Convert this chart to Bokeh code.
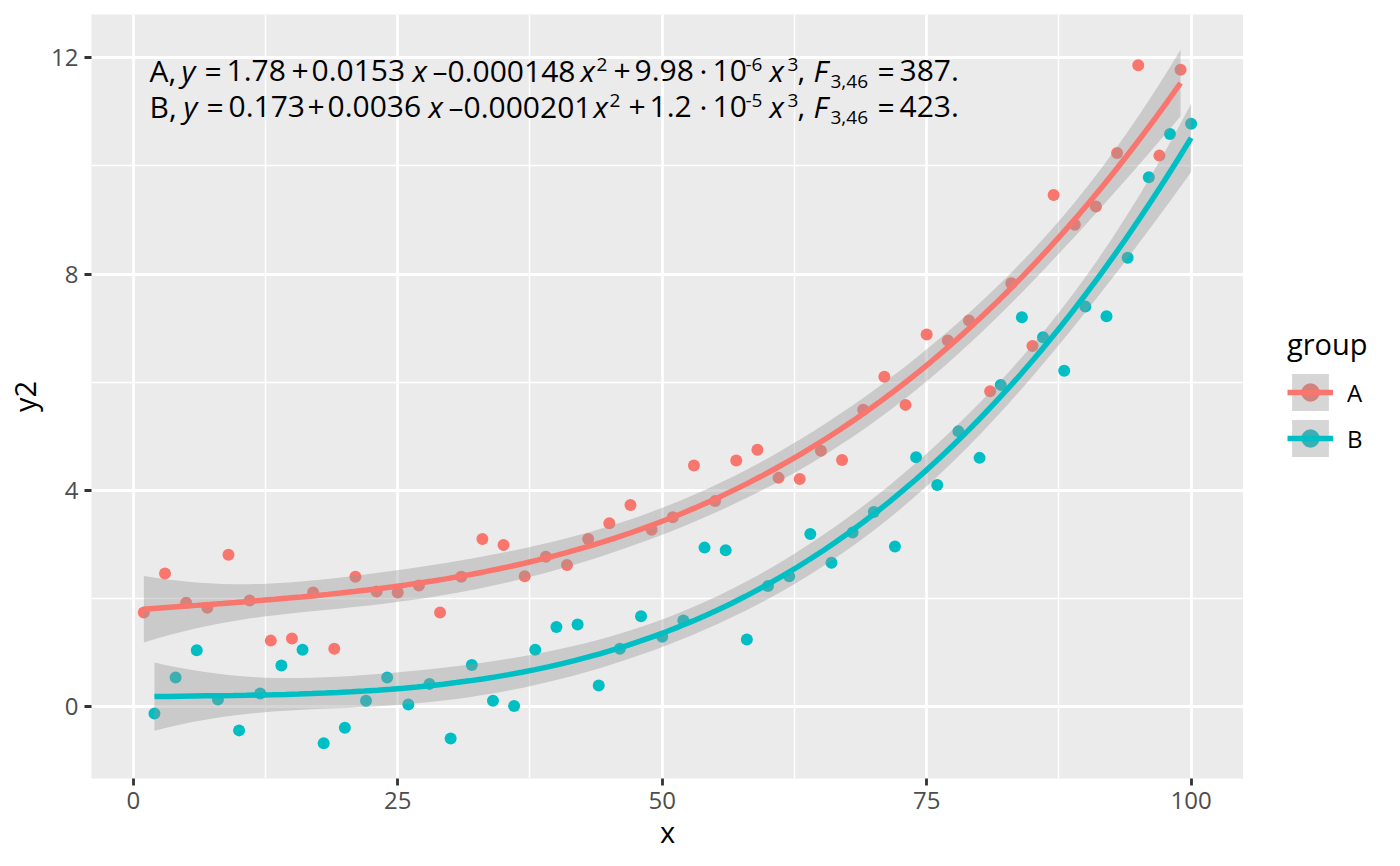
import numpy as np
from bokeh.plotting import figure
from bokeh.layouts import row
from bokeh.models import Range1d, FixedTicker, Legend, LegendItem, ColumnDataSource
from bokeh.core.properties import value
from bokeh.embed import file_html
from bokeh.resources import INLINE

# ---------------- data ----------------
x_a = list(range(1, 100, 2))
y_a = [1.74, 2.46, 1.92, 1.83, 2.81, 1.96, 1.22, 1.26, 2.11, 1.07,
       2.40, 2.13, 2.11, 2.24, 1.74, 2.40, 3.10, 2.99, 2.41, 2.77,
       2.62, 3.10, 3.39, 3.73, 3.27, 3.50, 4.46, 3.80, 4.55, 4.75,
       4.23, 4.21, 4.73, 4.56, 5.49, 6.10, 5.58, 6.88, 6.77, 7.14,
       5.83, 7.83, 6.67, 9.46, 8.91, 9.25, 10.24, 11.86, 10.19, 11.78]
x_b = list(range(2, 101, 2))
y_b = [-0.13, 0.54, 1.04, 0.13, -0.44, 0.24, 0.76, 1.05, -0.68, -0.39,
       0.11, 0.54, 0.04, 0.42, -0.59, 0.77, 0.11, 0.01, 1.05, 1.47,
       1.52, 0.39, 1.07, 1.67, 1.29, 1.59, 2.94, 2.89, 1.24, 2.23,
       2.41, 3.19, 2.66, 3.22, 3.60, 2.96, 4.61, 4.10, 5.09, 4.60,
       5.95, 7.20, 6.83, 6.21, 7.40, 7.22, 8.30, 9.79, 10.59, 10.78]
groups = ["A", "B"]
colors = ["#F8766D", "#00BFC4"]
x_ticks = [0, 25, 50, 75, 100]
x_minor = [12.5, 37.5, 62.5, 87.5]
y_ticks = [0, 4, 8, 12]
y_minor = [2, 6, 10]
T975 = 2.0129  # t quantile, 46 d.f.

# equation label pieces: (ref px x, text, style)  style: n normal, i italic, sup, sub
eq_lines = [
    [(150, "A,", "n"), (182, "y", "i"), (205, "=", "n"), (227, "1.78", "n"),
     (292, "+", "n"), (312, "0.0153", "n"), (413, "x", "i"), (433, "–0.000148", "n"),
     (581, "x", "i"), (597, "2", "sup"), (614, "+", "n"), (635, "9.98", "n"),
     (700, "·", "n"), (713, "10", "n"), (746, "-6", "sup"), (770, "x", "i"),
     (788, "3", "sup"), (798, ",", "n"), (814, "F", "i"), (831, "3,46", "sub"),
     (878, "=", "n"), (900, "387.", "n")],
    [(150, "B,", "n"), (184, "y", "i"), (207, "=", "n"), (229, "0.173", "n"),
     (308, "+", "n"), (328, "0.0036", "n"), (429, "x", "i"), (449, "–0.000201", "n"),
     (594, "x", "i"), (610, "2", "sup"), (629, "+", "n"), (650, "1.2", "n"),
     (700, "·", "n"), (713, "10", "n"), (746, "-5", "sup"), (770, "x", "i"),
     (788, "3", "sup"), (798, ",", "n"), (814, "F", "i"), (831, "3,46", "sub"),
     (878, "=", "n"), (900, "423.", "n")],
]
eq_baselines = [82, 118]

# ---------------- layout constants ----------------
H = 858
FR_L, FR_T, FR_W, FR_H = 91, 14, 1152, 764   # frame in reference pixels
W_MAIN = FR_L + FR_W
W_LEG = 141
X0, X1 = -3.95, 104.95
Y0, Y1 = -1.33, 12.80
FS_MAIN, FS_SMALL = 30, 19


def px2x(px):
    return X0 + (px - FR_L) / FR_W * (X1 - X0)


def py2y(py):
    return Y1 - (py - FR_T) / FR_H * (Y1 - Y0)


def poly_fit(xs, ys, n=80):
    xs = np.asarray(xs, float)
    ys = np.asarray(ys, float)
    X = np.vander(xs, 4, increasing=True)
    beta, *_ = np.linalg.lstsq(X, ys, rcond=None)
    resid = ys - X @ beta
    s2 = resid @ resid / (len(xs) - 4)
    XtXi = np.linalg.inv(X.T @ X)
    xg = np.linspace(xs.min(), xs.max(), n)
    G = np.vander(xg, 4, increasing=True)
    yg = G @ beta
    se = np.sqrt(s2 * np.einsum("ij,jk,ik->i", G, XtXi, G))
    return xg, yg, yg - T975 * se, yg + T975 * se


p = figure(width=W_MAIN, height=H, output_backend="svg", toolbar_location=None,
           x_range=Range1d(X0, X1), y_range=Range1d(Y0, Y1),
           min_border_left=FR_L, min_border_right=0,
           min_border_top=FR_T, min_border_bottom=H - FR_T - FR_H)
p.background_fill_color = "#EBEBEB"
p.border_fill_color = "white"
p.outline_line_color = None

p.xaxis.ticker = FixedTicker(ticks=x_ticks, minor_ticks=x_minor)
p.yaxis.ticker = FixedTicker(ticks=y_ticks, minor_ticks=y_minor)
for ax in (p.xaxis, p.yaxis):
    ax.axis_line_color = None
    ax.major_tick_line_color = "#333333"
    ax.major_tick_line_width = 2.8
    ax.major_tick_out = 7
    ax.major_tick_in = 0
    ax.minor_tick_line_color = None
    ax.major_label_text_font = "Open Sans"
    ax.major_label_text_font_size = "24px"
    ax.major_label_text_color = "#4D4D4D"
    ax.axis_label_text_font = "Open Sans"
    ax.axis_label_text_font_size = "29px"
    ax.axis_label_text_font_style = "normal"
    ax.axis_label_text_color = "black"
p.xaxis.axis_label = "x"
p.yaxis.axis_label = "y2"
p.xaxis.major_label_standoff = 6
p.yaxis.major_label_standoff = 6
p.xaxis.axis_label_standoff = 0
p.yaxis.axis_label_standoff = 4

for g in (p.xgrid, p.ygrid):
    g.grid_line_color = "white"
    g.grid_line_width = 2.8
    g.minor_grid_line_color = "white"
    g.minor_grid_line_width = 1.4

for name, xs, ys, col in zip(groups, [x_a, x_b], [y_a, y_b], colors):
    src = ColumnDataSource(dict(x=xs, y=ys))
    p.scatter("x", "y", source=src, size=12, fill_color=col, line_color=None)

for name, xs, ys, col in zip(groups, [x_a, x_b], [y_a, y_b], colors):
    xg, yg, lo, hi = poly_fit(xs, ys)
    fsrc = ColumnDataSource(dict(x=xg, y=yg, lo=lo, hi=hi))
    p.varea(x="x", y1="lo", y2="hi", source=fsrc, fill_color="#999999", fill_alpha=0.4)
    p.line("x", "y", source=fsrc, line_color=col, line_width=5.5)

# equation labels (baseline correction measured from the render)
for line, base in zip(eq_lines, eq_baselines):
    for px, txt, style in line:
        if style == "sup":
            yb, fs, fst = base - 11, FS_SMALL, "normal"
        elif style == "sub":
            yb, fs, fst = base + 6, FS_SMALL, "normal"
        elif style == "i":
            yb, fs, fst = base, FS_MAIN, "italic"
        else:
            yb, fs, fst = base, FS_MAIN, "normal"
        p.text(x=[px2x(px - 1)], y=[py2y(yb - 0.39 * fs)], text=[txt],
               text_font=value("Open Sans"), text_font_size=f"{fs}px",
               text_font_style=fst, text_color="black",
               text_baseline="alphabetic", text_align="left")

# ---------------- legend in its own narrow figure ----------------
pl = figure(width=W_LEG, height=H, output_backend="svg", toolbar_location=None,
            x_range=Range1d(0, 1), y_range=Range1d(0, 1),
            x_axis_location=None, y_axis_location=None, min_border=0)
pl.outline_line_color = None
pl.background_fill_color = "white"
pl.border_fill_color = "white"
pl.xgrid.visible = False
pl.ygrid.visible = False
legend_items = []
for name, col in zip(groups, colors):
    # key renderers: sample marks kept outside the visible range of this legend panel
    k_pt = pl.scatter(x=[-5], y=[-5], size=12, fill_color=col, line_color=None)
    k_band = pl.varea(x=[-6, -5], y1=[-6, -6], y2=[-5, -5], fill_color="#999999", fill_alpha=0.4)
    k_line = pl.line(x=[-6, -5], y=[-5, -5], line_color=col, line_width=5.5)
    legend_items.append(LegendItem(label=name, renderers=[k_pt, k_band, k_line]))

legend = Legend(items=legend_items, location=(44, H - 464 - 77), title="group",
                title_text_font="Open Sans", title_text_font_size="29px",
                title_text_font_style="normal", title_text_color="black",
                title_standoff=6,
                label_text_font="Open Sans", label_text_font_size="24px",
                label_text_color="black", label_standoff=14,
                glyph_width=46, glyph_height=46, label_height=46,
                spacing=0, padding=0, margin=0,
                border_line_color=None, background_fill_alpha=0)
pl.add_layout(legend)

layout = row(p, pl, spacing=0)
open("out.html", "w").write(file_html(layout, INLINE))
